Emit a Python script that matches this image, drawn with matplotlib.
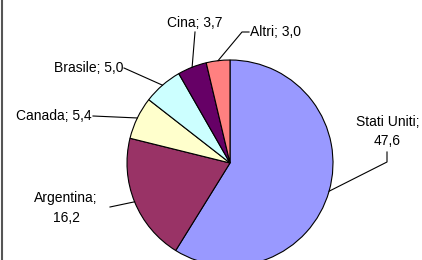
import numpy as np
import matplotlib
matplotlib.use("Agg")
import matplotlib.pyplot as plt

plt.rcParams['font.family'] = ['Liberation Sans', 'DejaVu Sans']

categories = ["Stati Uniti", "Argentina", "Canada", "Brasile", "Cina", "Altri"]
values = [47.6, 16.2, 5.4, 5.0, 3.7, 3.0]
value_labels = ["47,6", "16,2", "5,4", "5,0", "3,7", "3,0"]
colors = ["#9999FF", "#993366", "#FFFFCC", "#CCFFFF", "#660066", "#FF8080"]

W, H = 422, 260
fig = plt.figure(figsize=(W / 100, H / 100), dpi=100)
ax = fig.add_axes([0, 0, 1, 1])

cx, cy, r = 230, 97, 103
wedges, _ = ax.pie(values, colors=colors, startangle=90, counterclock=False,
                   center=(cx, cy), radius=r, frame=True,
                   wedgeprops=dict(edgecolor="black", linewidth=0.8))
ax.set_xlim(0, W)
ax.set_ylim(0, H)
ax.set_aspect("auto")
ax.axis("off")

# label layout: (text x, text y, ha, va, two-line?)
layout = [
    (387.5, 128.5, "center", "center", True),
    (66, 52, "center", "center", True),
    (92, 144, "right", "center", False),
    (123, 192, "right", "center", False),
    (195, 237, "center", "center", False),
    (250, 228, "left", "center", False),
]
# leader line outer points (layout only)
leader = [
    [(387, 98), (387, 108)],
    [(110, 53)],
    [(93, 144)],
    [(124, 192)],
    [(195, 228)],
    [(242, 228), (249, 228)],
]

for w, cat, vl, lay, pts_out in zip(wedges, categories, value_labels, layout, leader):
    mid = np.deg2rad((w.theta1 + w.theta2) / 2)
    ax_ = cx + r * np.cos(mid)
    ay_ = cy + r * np.sin(mid)
    tx, ty, ha, va, two = lay
    txt = f"{cat};\n{vl}" if two else f"{cat}; {vl}"
    ax.text(tx, ty, txt, ha=ha, va=va, fontsize=10, linespacing=1.5)
    pts = [(ax_, ay_)] + pts_out
    xs, ys = zip(*pts)
    ax.plot(xs, ys, color="black", linewidth=0.8)

# left border of chart area
ax.plot([1.5, 1.5], [0, H], color="#555555", linewidth=1.5)

fig.savefig("out.png", dpi=100)
